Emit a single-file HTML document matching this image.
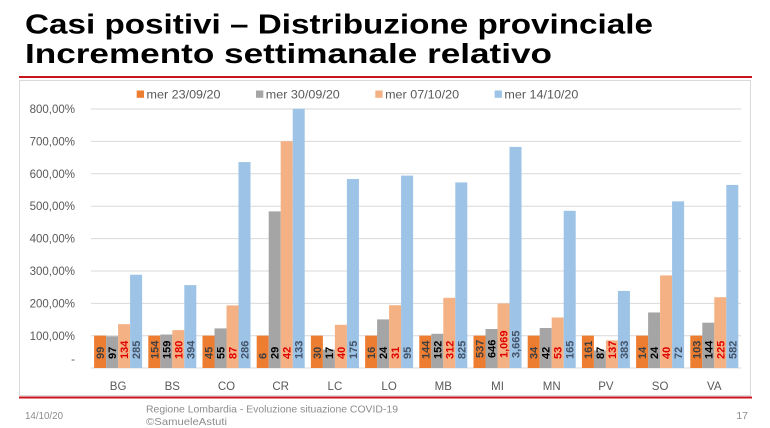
<!DOCTYPE html>
<html>
<head>
<meta charset="utf-8">
<style>
  html, body { margin: 0; padding: 0; background: #ffffff; }
  svg { display: block; }
  text { font-family: "Liberation Sans", "DejaVu Sans", sans-serif; }
</style>
</head>
<body>
<svg width="770" height="428" viewBox="0 0 770 428" xmlns="http://www.w3.org/2000/svg">
  <rect x="0" y="0" width="770" height="428" fill="#ffffff"/>

  <!-- Title -->
  <text x="25" y="33.5" font-size="28" font-weight="bold" fill="#000" textLength="628" lengthAdjust="spacingAndGlyphs">Casi positivi – Distribuzione provinciale</text>
  <text x="25" y="63" font-size="28" font-weight="bold" fill="#000" textLength="527" lengthAdjust="spacingAndGlyphs">Incremento settimanale relativo</text>

  <!-- red line under title -->
  <line x1="19" y1="77" x2="752" y2="77" stroke="#c8141c" stroke-width="2"/>

  <!-- chart frame -->
  <rect x="19.5" y="80.5" width="731" height="315" fill="#ffffff" stroke="#d9d9d9" stroke-width="1"/>

  <!-- bottom red line -->
  <line x1="19" y1="397.5" x2="752" y2="397.5" stroke="#c8141c" stroke-width="2"/>

  <!-- Legend -->
  <rect x="136.7" y="90.5" width="7.3" height="7.3" fill="#ED7D31"/>
  <text x="146.5" y="98.5" font-size="12" fill="#595959" textLength="74" lengthAdjust="spacingAndGlyphs">mer 23/09/20</text>
  <rect x="256" y="90.5" width="7.3" height="7.3" fill="#A5A5A5"/>
  <text x="265.8" y="98.5" font-size="12" fill="#595959" textLength="74" lengthAdjust="spacingAndGlyphs">mer 30/09/20</text>
  <rect x="375.3" y="90.5" width="7.3" height="7.3" fill="#F4B183"/>
  <text x="385.1" y="98.5" font-size="12" fill="#595959" textLength="74" lengthAdjust="spacingAndGlyphs">mer 07/10/20</text>
  <rect x="494.6" y="90.5" width="7.3" height="7.3" fill="#9DC3E6"/>
  <text x="504.4" y="98.5" font-size="12" fill="#595959" textLength="74" lengthAdjust="spacingAndGlyphs">mer 14/10/20</text>

  <!-- Gridlines -->
  <g stroke="#d9d9d9" stroke-width="1">
    <line x1="91" y1="109" x2="741" y2="109"/>
    <line x1="91" y1="141.4" x2="741" y2="141.4"/>
    <line x1="91" y1="173.8" x2="741" y2="173.8"/>
    <line x1="91" y1="206.2" x2="741" y2="206.2"/>
    <line x1="91" y1="238.6" x2="741" y2="238.6"/>
    <line x1="91" y1="271" x2="741" y2="271"/>
    <line x1="91" y1="303.4" x2="741" y2="303.4"/>
    <line x1="91" y1="335.8" x2="741" y2="335.8"/>
    <line x1="91" y1="368" x2="741" y2="368"/>
  </g>

  <!-- Y axis labels -->
  <g font-size="11.5" fill="#595959" text-anchor="end">
    <text x="75" y="113">800,00%</text>
    <text x="75" y="145.4">700,00%</text>
    <text x="75" y="177.8">600,00%</text>
    <text x="75" y="210.2">500,00%</text>
    <text x="75" y="242.6">400,00%</text>
    <text x="75" y="275">300,00%</text>
    <text x="75" y="307.4">200,00%</text>
    <text x="75" y="339.8">100,00%</text>
    <text x="75" y="363">-</text>
  </g>

  <!-- Bars -->
  <!-- orange: all 100% -->
  <g fill="#ED7D31">
    <rect x="94.1" y="335.6" width="12" height="32.4"/>
    <rect x="148.3" y="335.6" width="12" height="32.4"/>
    <rect x="202.5" y="335.6" width="12" height="32.4"/>
    <rect x="256.7" y="335.6" width="12" height="32.4"/>
    <rect x="310.9" y="335.6" width="12" height="32.4"/>
    <rect x="365.1" y="335.6" width="12" height="32.4"/>
    <rect x="419.3" y="335.6" width="12" height="32.4"/>
    <rect x="473.5" y="335.6" width="12" height="32.4"/>
    <rect x="527.7" y="335.6" width="12" height="32.4"/>
    <rect x="581.9" y="335.6" width="12" height="32.4"/>
    <rect x="636.1" y="335.6" width="12" height="32.4"/>
    <rect x="690.3" y="335.6" width="12" height="32.4"/>
  </g>
  <!-- gray -->
  <g fill="#A5A5A5">
    <rect x="106.1" y="336.25" width="12" height="31.75"/>
    <rect x="160.3" y="334.55" width="12" height="33.45"/>
    <rect x="214.5" y="328.4" width="12" height="39.6"/>
    <rect x="268.7" y="211.4" width="12" height="156.6"/>
    <rect x="322.9" y="349.64" width="12" height="18.36"/>
    <rect x="377.1" y="319.4" width="12" height="48.6"/>
    <rect x="431.3" y="333.8" width="12" height="34.2"/>
    <rect x="485.5" y="329.02" width="12" height="38.98"/>
    <rect x="539.7" y="327.98" width="12" height="40.02"/>
    <rect x="593.9" y="350.49" width="12" height="17.51"/>
    <rect x="648.1" y="312.46" width="12" height="55.54"/>
    <rect x="702.3" y="322.7" width="12" height="45.3"/>
  </g>
  <!-- light orange -->
  <g fill="#F4B183">
    <rect x="118.1" y="324.15" width="12" height="43.85"/>
    <rect x="172.3" y="330.13" width="12" height="37.87"/>
    <rect x="226.5" y="305.36" width="12" height="62.64"/>
    <rect x="280.7" y="141.2" width="12" height="226.8"/>
    <rect x="334.9" y="324.8" width="12" height="43.2"/>
    <rect x="389.1" y="305.22" width="12" height="62.78"/>
    <rect x="443.3" y="297.8" width="12" height="70.2"/>
    <rect x="497.5" y="303.5" width="12" height="64.5"/>
    <rect x="551.7" y="317.5" width="12" height="50.5"/>
    <rect x="605.9" y="340.43" width="12" height="27.57"/>
    <rect x="660.1" y="275.43" width="12" height="92.57"/>
    <rect x="714.3" y="297.22" width="12" height="70.78"/>
  </g>
  <!-- blue -->
  <g fill="#9DC3E6">
    <rect x="130.1" y="274.73" width="12" height="93.27"/>
    <rect x="184.3" y="285.11" width="12" height="82.89"/>
    <rect x="238.5" y="162.08" width="12" height="205.92"/>
    <rect x="292.7" y="108.8" width="12" height="259.2"/>
    <rect x="346.9" y="179" width="12" height="189"/>
    <rect x="401.1" y="175.6" width="12" height="192.4"/>
    <rect x="455.3" y="182.4" width="12" height="185.6"/>
    <rect x="509.5" y="146.9" width="12" height="221.1"/>
    <rect x="563.7" y="210.8" width="12" height="157.2"/>
    <rect x="617.9" y="290.92" width="12" height="77.08"/>
    <rect x="672.1" y="201.37" width="12" height="166.63"/>
    <rect x="726.3" y="184.92" width="12" height="183.08"/>
  </g>

  <!-- Data labels (rotated) -->
  <g font-size="11" font-weight="bold">
    <!-- BG -->
    <text fill="#404040" transform="translate(104.1,359) rotate(-90)">99</text>
    <text fill="#000000" transform="translate(116.1,359) rotate(-90)">97</text>
    <text fill="#e00000" transform="translate(128.1,359) rotate(-90)">134</text>
    <text fill="#44546A" transform="translate(140.1,359) rotate(-90)">285</text>
    <!-- BS -->
    <text fill="#404040" transform="translate(158.3,359) rotate(-90)">154</text>
    <text fill="#000000" transform="translate(170.3,359) rotate(-90)">159</text>
    <text fill="#e00000" transform="translate(182.3,359) rotate(-90)">180</text>
    <text fill="#44546A" transform="translate(194.3,359) rotate(-90)">394</text>
    <!-- CO -->
    <text fill="#404040" transform="translate(212.5,359) rotate(-90)">45</text>
    <text fill="#000000" transform="translate(224.5,359) rotate(-90)">55</text>
    <text fill="#e00000" transform="translate(236.5,359) rotate(-90)">87</text>
    <text fill="#44546A" transform="translate(248.5,359) rotate(-90)">286</text>
    <!-- CR -->
    <text fill="#404040" transform="translate(266.7,359) rotate(-90)">6</text>
    <text fill="#000000" transform="translate(278.7,359) rotate(-90)">29</text>
    <text fill="#e00000" transform="translate(290.7,359) rotate(-90)">42</text>
    <text fill="#44546A" transform="translate(302.7,359) rotate(-90)">133</text>
    <!-- LC -->
    <text fill="#404040" transform="translate(320.9,359) rotate(-90)">30</text>
    <text fill="#000000" transform="translate(332.9,359) rotate(-90)">17</text>
    <text fill="#e00000" transform="translate(344.9,359) rotate(-90)">40</text>
    <text fill="#44546A" transform="translate(356.9,359) rotate(-90)">175</text>
    <!-- LO -->
    <text fill="#404040" transform="translate(375.1,359) rotate(-90)">16</text>
    <text fill="#000000" transform="translate(387.1,359) rotate(-90)">24</text>
    <text fill="#e00000" transform="translate(399.1,359) rotate(-90)">31</text>
    <text fill="#44546A" transform="translate(411.1,359) rotate(-90)">95</text>
    <!-- MB -->
    <text fill="#404040" transform="translate(429.3,359) rotate(-90)">144</text>
    <text fill="#000000" transform="translate(441.3,359) rotate(-90)">152</text>
    <text fill="#e00000" transform="translate(453.3,359) rotate(-90)">312</text>
    <text fill="#44546A" transform="translate(465.3,359) rotate(-90)">825</text>
    <!-- MI -->
    <text fill="#404040" transform="translate(483.5,358) rotate(-90)">537</text>
    <text fill="#000000" transform="translate(495.5,358) rotate(-90)">646</text>
    <text fill="#e00000" transform="translate(507.5,358) rotate(-90)">1,069</text>
    <text fill="#44546A" transform="translate(519.5,358) rotate(-90)">3,665</text>
    <!-- MN -->
    <text fill="#404040" transform="translate(537.7,359) rotate(-90)">34</text>
    <text fill="#000000" transform="translate(549.7,359) rotate(-90)">42</text>
    <text fill="#e00000" transform="translate(561.7,359) rotate(-90)">53</text>
    <text fill="#44546A" transform="translate(573.7,359) rotate(-90)">165</text>
    <!-- PV -->
    <text fill="#404040" transform="translate(591.9,359) rotate(-90)">161</text>
    <text fill="#000000" transform="translate(603.9,359) rotate(-90)">87</text>
    <text fill="#e00000" transform="translate(615.9,359) rotate(-90)">137</text>
    <text fill="#44546A" transform="translate(627.9,359) rotate(-90)">383</text>
    <!-- SO -->
    <text fill="#404040" transform="translate(646.1,359) rotate(-90)">14</text>
    <text fill="#000000" transform="translate(658.1,359) rotate(-90)">24</text>
    <text fill="#e00000" transform="translate(670.1,359) rotate(-90)">40</text>
    <text fill="#44546A" transform="translate(682.1,359) rotate(-90)">72</text>
    <!-- VA -->
    <text fill="#404040" transform="translate(700.3,359) rotate(-90)">103</text>
    <text fill="#000000" transform="translate(712.3,359) rotate(-90)">144</text>
    <text fill="#e00000" transform="translate(724.3,359) rotate(-90)">225</text>
    <text fill="#44546A" transform="translate(736.3,359) rotate(-90)">582</text>
  </g>

  <!-- X axis labels -->
  <g font-size="11.5" fill="#595959" text-anchor="middle">
    <text x="118.1" y="390">BG</text>
    <text x="172.3" y="390">BS</text>
    <text x="226.5" y="390">CO</text>
    <text x="280.7" y="390">CR</text>
    <text x="334.9" y="390">LC</text>
    <text x="389.1" y="390">LO</text>
    <text x="443.3" y="390">MB</text>
    <text x="497.5" y="390">MI</text>
    <text x="551.7" y="390">MN</text>
    <text x="605.9" y="390">PV</text>
    <text x="660.1" y="390">SO</text>
    <text x="714.3" y="390">VA</text>
  </g>

  <!-- Footer -->
  <text x="25" y="419" font-size="10.5" fill="#8c8c8c" textLength="38" lengthAdjust="spacingAndGlyphs">14/10/20</text>
  <text x="146" y="412.5" font-size="10.5" fill="#8c8c8c" textLength="252" lengthAdjust="spacingAndGlyphs">Regione Lombardia - Evoluzione situazione COVID-19</text>
  <text x="146" y="425" font-size="10.5" fill="#8c8c8c" textLength="81" lengthAdjust="spacingAndGlyphs">©SamueleAstuti</text>
  <text x="748" y="419" font-size="10.5" fill="#8c8c8c" text-anchor="end">17</text>
</svg>
</body>
</html>
